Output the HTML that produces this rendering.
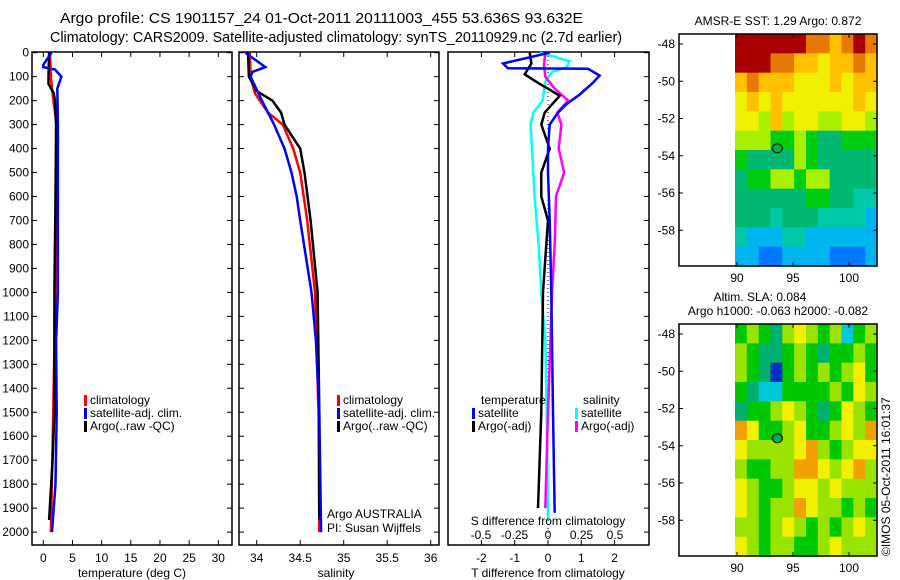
<!DOCTYPE html>
<html><head><meta charset="utf-8"><style>
body{margin:0;background:#fff;}
svg{display:block;font-family:"Liberation Sans",sans-serif;}
text{fill:#000;}
</style></head><body>
<svg id="c" width="900" height="580" viewBox="0 0 900 580">
<text x="60" y="23" font-size="14.5" textLength="523" lengthAdjust="spacingAndGlyphs">Argo profile: CS 1901157_24 01-Oct-2011 20111003_455 53.636S 93.632E</text>
<text x="50" y="42" font-size="14.5" textLength="572" lengthAdjust="spacingAndGlyphs">Climatology: CARS2009. Satellite-adjusted climatology: synTS_20110929.nc (2.7d earlier)</text>
<text x="778" y="25" font-size="12" text-anchor="middle">AMSR-E SST: 1.29 Argo: 0.872</text>
<text x="760" y="301" font-size="12" text-anchor="middle">Altim. SLA: 0.084</text>
<text x="778" y="315" font-size="12" text-anchor="middle">Argo h1000: -0.063 h2000: -0.082</text>
<text transform="translate(890,556) rotate(-90)" font-size="12">©IMOS 05-Oct-2011 16:01:37</text>
</svg>
<script>
// ---- data ----
const depthTicks=[0,100,200,300,400,500,600,700,800,900,1000,1100,1200,1300,1400,1500,1600,1700,1800,1900,2000];
const tempTicks=[0,5,10,15,20,25,30];
const salTicks=[34,34.5,35,35.5,36];
const tdiffTicks=[-2,-1,0,1,2];
const sdiffTicks=[-0.5,-0.25,0,0.25,0.5];
const tClimD=[0,100,150,250,350,600,1000,1500,2000];
const tClimV=[1.15,1.3,1.5,2.0,2.5,2.3,2.1,1.7,1.3];
const tSatD=[0,50,60,70,100,150,300,600,1000,1200,1500,1800,2000];
const tSatV=[1.4,0.0,0.0,2.0,3.1,2.4,2.5,2.5,2.5,2.2,2.3,2.1,1.5];
const tArgoD=[0,100,130,170,200,300,600,1000,1500,1700,1950];
const tArgoV=[1.0,0.9,0.9,1.8,2.0,2.2,2.1,1.9,1.9,1.6,1.0];
const sClimD=[0,100,170,250,300,400,500,700,1000,1500,2000];
const sClimV=[33.92,33.93,33.98,34.13,34.3,34.42,34.5,34.58,34.67,34.71,34.72];
const sSatD=[0,60,80,100,200,300,400,500,600,700,1000,1200,1500,2000];
const sSatV=[33.87,34.1,33.95,33.93,34.06,34.2,34.32,34.4,34.46,34.5,34.63,34.68,34.72,34.74];
const sArgoD=[0,100,160,200,250,300,400,500,700,1000,1500,1950];
const sArgoV=[33.9,33.91,34.0,34.18,34.28,34.32,34.5,34.55,34.62,34.7,34.72,34.72];
const dTSatD=[0,45,65,67,95,125,175,215,250,300,400,500,700,1000,1500,1920];
const dTSatV=[0.05,-1.35,-1.2,1.2,1.55,1.35,0.95,0.55,0.3,0.05,0.0,0.0,0.05,0.1,0.15,0.2];
const dTArgoD=[0,45,90,130,150,180,250,300,400,500,600,700,800,1000,1500,1900];
const dTArgoV=[-0.55,-0.5,-0.7,-0.25,0,0.35,-0.1,-0.2,0.05,-0.2,-0.2,0,-0.05,-0.15,-0.2,-0.3];
const dSSatD=[0,35,60,80,120,200,250,300,400,500,600,800,1000,1200,1500,1950];
const dSSatV=[-0.06,0.16,0.14,0.03,-0.02,-0.04,-0.11,-0.13,-0.12,-0.11,-0.1,-0.07,-0.05,-0.02,-0.01,0.0];
const dSArgoD=[0,50,100,150,200,250,300,400,500,600,800,1000,1500,1900];
const dSArgoV=[-0.02,-0.03,-0.02,0.05,0.15,0.07,0.1,0.08,0.12,0.06,0.05,0.03,0.0,-0.02];
const lonTicks=[90,95,100];
const latTicks=[-48,-50,-52,-54,-56,-58];
const sstGrid=[
[9,9,9,9,9,9,8,8,7,8,9,8],
[9,9,9,8,8,7,7,6,7,7,8,7],
[7,8,7,7,7,6,6,6,7,6,7,7],
[6,7,6,7,6,6,6,6,6,6,7,6],
[6,6,5,7,5,6,6,5,5,6,6,5],
[5,5,5,4,4,5,4,3,3,4,4,4],
[4,3,3,3,3,5,4,3,3,3,3,3],
[3,4,4,5,5,4,5,5,3,3,3,3],
[3,3,3,3,3,3,4,4,3,3,2,2],
[3,3,3,2,3,3,3,2,2,2,2,1],
[2,1,1,1,2,2,1,1,1,1,1,1],
[1,1,0,0,1,1,1,1,0,0,0,1]];
const slaGrid=[
[4,5,4,3,5,6,5,4,5,2,4,5],
[5,4,3,3,4,5,4,3,4,4,5,4],
[5,4,3,1,4,5,4,5,4,5,6,4],
[4,3,2,2,4,4,4,4,5,4,6,5],
[3,4,4,5,6,5,4,3,4,6,5,4],
[7,6,4,4,5,6,4,4,5,6,5,7],
[6,5,5,5,5,6,7,5,4,5,6,6],
[5,4,4,5,5,7,7,6,5,6,7,5],
[6,5,4,4,5,6,6,5,6,5,5,5],
[6,5,4,5,5,7,6,5,5,4,5,4],
[5,5,4,5,6,5,4,5,4,5,6,5],
[6,5,4,5,5,4,4,5,6,5,5,5]];
const argoLon=93.6, argoLat=-53.6;

const sstColors=['#0078ff','#00b4f0','#00c8a8','#00b870','#00cc10','#a8f000','#f0f000','#ffc000','#e87800','#a80000'];
const slaColors=['#0000a0','#0030c0','#00c8d8','#00b070','#00c800','#98e400','#f0f000','#f0a000'];

const svg=document.getElementById('c');
const NS='http://www.w3.org/2000/svg';
function mk(tag,attrs,parent){const e=document.createElementNS(NS,tag);for(const k in attrs)e.setAttribute(k,attrs[k]);(parent||svg).appendChild(e);return e;}
function txt(x,y,s,size,anchor){const t=mk('text',{x:x,y:y,'font-size':size,'text-anchor':anchor||'middle'});t.textContent=s;return t;}

const Y0=52,Y1=545;const dScale=0.2397;
function yD(d){return 52.7+d*dScale;}
function lin(v0,v1,p0,p1){return v=>p0+(v-v0)*(p1-p0)/(v1-v0);}
const xT=lin(0,30,43.3,218.3);
const xS=lin(34,36,256.7,430.7);
const xdT=lin(0,1,548,581.3);
const xdS=lin(0,1,548,682);

function frame(x0,x1,name){
  const r=mk('rect',{x:x0,y:Y0,width:x1-x0,height:Y1-Y0,fill:'none',stroke:'#000','stroke-width':1.5});
  
  
}
function line(D,V,xf,color,name,w){
  const pts=D.map((d,i)=>xf(V[i]).toFixed(1)+','+yD(d).toFixed(1)).join(' ');
  const p=mk('polyline',{points:pts,fill:'none',stroke:color,'stroke-width':w||2.5,'stroke-linejoin':'miter'});
  
  
}
function depthTickMarks(x0,x1,labels){
  depthTicks.forEach(d=>{const y=yD(d);
    mk('line',{x1:x0,y1:y,x2:x0+5,y2:y,stroke:'#000'});
    mk('line',{x1:x1,y1:y,x2:x1-5,y2:y,stroke:'#000'});
    if(labels){const t=txt(x0-3,y+4,String(d),12,'end');
      
      }
  });
}
function xTicks(vals,xf,x0,x1,yLab,fmt){
  vals.forEach(v=>{const x=xf(v);
    mk('line',{x1:x,y1:Y1,x2:x,y2:Y1-5,stroke:'#000'});
    mk('line',{x1:x,y1:Y0,x2:x,y2:Y0+5,stroke:'#000'});
    const t=txt(x,yLab,fmt?fmt(v):String(v),12);
    
    
  });
}
function legendEntry(x,y,color,label){
  mk('rect',{x:x,y:y-9,width:3,height:11,fill:color});
  const t=txt(x+6,y,label,12,'start');
  
  
}

frame(32,232,'temperature-panel');
depthTickMarks(32,232,true);
xTicks(tempTicks,xT,32,232,562);
line(tClimD,tClimV,xT,'#ff0000','temp-climatology-line');
line(tArgoD,tArgoV,xT,'#000000','temp-argo-line');
line(tSatD,tSatV,xT,'#0000ff','temp-satellite-line');
txt(132,577,'temperature (deg C)',12);
legendEntry(84,404,'#ff0000','climatology');
legendEntry(84,417,'#0000ff','satellite-adj. clim.');
legendEntry(84,430,'#000000','Argo(..raw -QC)');

frame(239,439,'salinity-panel');
depthTickMarks(239,439,false);
xTicks(salTicks,xS,239,439,562);
line(sClimD,sClimV,xS,'#ff0000','sal-climatology-line');
line(sArgoD,sArgoV,xS,'#000000','sal-argo-line');
line(sSatD,sSatV,xS,'#0000ff','sal-satellite-line');
txt(336,577,'salinity',12);
legendEntry(337,404,'#ff0000','climatology');
legendEntry(337,417,'#0000ff','satellite-adj. clim.');
legendEntry(337,430,'#000000','Argo(..raw -QC)');
txt(327,518,'Argo AUSTRALIA',12,'start');
txt(327,532,'PI: Susan Wijffels',12,'start');

frame(448,649,'difference-panel');
depthTicks.forEach(d=>{const y=yD(d);mk('line',{x1:649,y1:y,x2:644,y2:y,stroke:'#000'});});
mk('line',{x1:548,y1:Y0,x2:548,y2:Y1,stroke:'#000','stroke-dasharray':'1,3'});
xTicks(tdiffTicks,xdT,448,649,562);
line(dSSatD,dSSatV,xdS,'#00ffff','sdiff-satellite-line');
line(dSArgoD,dSArgoV,xdS,'#ff00ff','sdiff-argo-line');
line(dTArgoD,dTArgoV,xdT,'#000000','tdiff-argo-line');
line(dTSatD,dTSatV,xdT,'#0000ff','tdiff-satellite-line');
sdiffTicks.forEach(v=>{const t=txt(xdS(v),539,String(v),12);});
txt(548,525,'S difference from climatology',12);
txt(548,577,'T difference from climatology',12);
txt(481,404,'temperature',12,'start');
txt(583,404,'salinity',12,'start');
legendEntry(472,417,'#0000ff','satellite');
legendEntry(472,430,'#000000','Argo(-adj)');
legendEntry(575,417,'#00ffff','satellite');
legendEntry(575,430,'#ff00ff','Argo(-adj)');

function map(top,bot,grid,colors,name){
  const xL=lin(90,100,737,849);
  const yL=lin(-48,-58,top+10,top+10+(bot-top-10)*0.839);
  const dx0=735,dx1=877,rows=grid.length,cols=grid[0].length;
  const cw=(dx1-dx0)/cols,ch=(bot-top)/rows;
  const g=mk('g',{});
  
  
  grid.forEach((row,r)=>row.forEach((v,c)=>{
    const cell=mk('rect',{x:(dx0+c*cw).toFixed(2),y:(top+r*ch).toFixed(2),width:(cw+0.6).toFixed(2),height:(ch+0.6).toFixed(2),fill:colors[v]},g);
    
    
  }));
  const fr=mk('rect',{x:679,y:top,width:198,height:bot-top,fill:'none',stroke:'#000','stroke-width':1.5});
  
  
  lonTicks.forEach(v=>{const x=xL(v);mk('line',{x1:x,y1:bot,x2:x,y2:bot-4,stroke:'#000'});mk('line',{x1:x,y1:top,x2:x,y2:top+4,stroke:'#000'});
    const t=txt(x,bot+16,String(v),12);});
  latTicks.forEach(v=>{const y=yL(v);mk('line',{x1:679,y1:y,x2:683,y2:y,stroke:'#000'});mk('line',{x1:877,y1:y,x2:873,y2:y,stroke:'#000'});
    const t=txt(675,y+4,String(v),12,'end');});
  const m=mk('ellipse',{cx:xL(argoLon),cy:yL(argoLat),rx:5,ry:4.5,fill:'#00b040',stroke:'#000','stroke-width':1});
  
  
}
map(34,266,sstGrid,sstColors,'sst-map');
map(324,556,slaGrid,slaColors,'sla-map');
</script>
</body></html>
